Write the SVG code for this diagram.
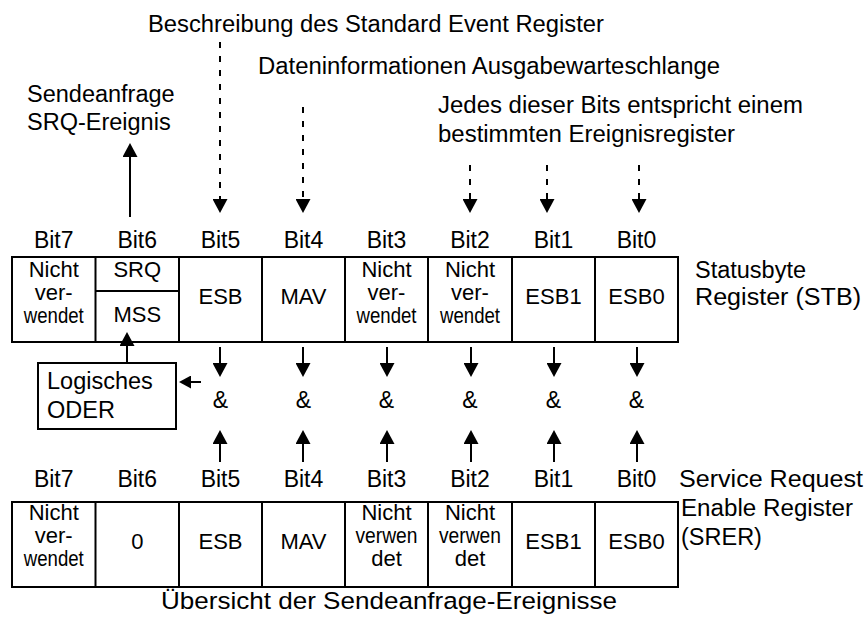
<svg xmlns="http://www.w3.org/2000/svg" width="867" height="621" viewBox="0 0 867 621">
<style>
text{font-family:"Liberation Sans",Arial,sans-serif;fill:#000}
.t{font-size:23.5px}
.c{font-size:22px;text-anchor:middle}
.b{font-size:23px;text-anchor:middle}
.box{fill:none;stroke:#000;stroke-width:2}
.ln{stroke:#000;stroke-width:2;fill:none}
.ds{stroke:#000;stroke-width:2;fill:none;stroke-dasharray:6 8}
</style>
<defs>
<marker id="ah" viewBox="0 0 14 15" refX="0" refY="7.5" markerWidth="14" markerHeight="15" orient="auto" markerUnits="userSpaceOnUse"><path d="M0,0 L14,7.5 L0,15 z" fill="#000"/></marker>
<marker id="ahs" viewBox="0 0 12 13" refX="0" refY="6.5" markerWidth="12" markerHeight="13" orient="auto" markerUnits="userSpaceOnUse"><path d="M0,0 L12,6.5 L0,13 z" fill="#000"/></marker>
</defs>
<rect width="867" height="621" fill="#fff"/>

<g id="label-ser"><text class="t" x="148" y="32" textLength="456" lengthAdjust="spacingAndGlyphs">Beschreibung des Standard Event Register</text></g>
<g id="label-mav"><text class="t" x="258" y="74" textLength="462" lengthAdjust="spacingAndGlyphs">Dateninformationen Ausgabewarteschlange</text></g>
<g id="label-srq"><text class="t" x="27" y="102">Sendeanfrage</text><text class="t" x="27" y="130">SRQ-Ereignis</text></g>
<g id="label-esb"><text class="t" x="438" y="113" textLength="365" lengthAdjust="spacingAndGlyphs">Jedes dieser Bits entspricht einem</text><text class="t" x="438" y="142" textLength="297" lengthAdjust="spacingAndGlyphs">bestimmten Ereignisregister</text></g>

<g id="bits-stb">
<text class="b" x="53.75" y="248">Bit7</text><text class="b" x="137.25" y="248">Bit6</text><text class="b" x="220.5" y="248">Bit5</text><text class="b" x="303.5" y="248">Bit4</text><text class="b" x="386.5" y="248">Bit3</text><text class="b" x="470" y="248">Bit2</text><text class="b" x="553.5" y="248">Bit1</text><text class="b" x="636.5" y="248">Bit0</text>
</g>

<g id="stb">
<rect class="box" x="12" y="257" width="666" height="85"/>
<path class="ln" d="M95.5,257V342M179,257V342M262,257V342M345,257V342M428,257V342M512,257V342M595,257V342M95.5,291H179"/>
<text class="c" x="53.75" y="277">Nicht</text><text class="c" x="53.75" y="300">ver-</text><text class="c" x="53.75" y="323" textLength="60" lengthAdjust="spacingAndGlyphs">wendet</text>
<text class="c" x="137.25" y="277">SRQ</text><text class="c" x="137.25" y="322">MSS</text>
<text class="c" x="220.5" y="304">ESB</text>
<text class="c" x="303.5" y="304">MAV</text>
<text class="c" x="386.5" y="277">Nicht</text><text class="c" x="386.5" y="300">ver-</text><text class="c" x="386.5" y="323" textLength="60" lengthAdjust="spacingAndGlyphs">wendet</text>
<text class="c" x="470" y="277">Nicht</text><text class="c" x="470" y="300">ver-</text><text class="c" x="470" y="323" textLength="60" lengthAdjust="spacingAndGlyphs">wendet</text>
<text class="c" x="553.5" y="304">ESB1</text>
<text class="c" x="636.5" y="304">ESB0</text>
</g>
<g id="stb-name"><text class="t" x="695" y="278">Statusbyte</text><text class="t" x="695" y="305" textLength="166" lengthAdjust="spacingAndGlyphs">Register (STB)</text></g>

<g id="or-box">
<rect class="box" x="38" y="363" width="138" height="66"/>
<text class="t" x="47" y="389">Logisches</text><text class="t" x="47" y="418">ODER</text>
</g>

<g id="and-gates">
<text class="b" x="220.5" y="408">&amp;</text><text class="b" x="303.5" y="408">&amp;</text><text class="b" x="386.5" y="408">&amp;</text><text class="b" x="470" y="408">&amp;</text><text class="b" x="553.5" y="408">&amp;</text><text class="b" x="636.5" y="408">&amp;</text>
</g>

<g id="bits-srer">
<text class="b" x="53.75" y="487">Bit7</text><text class="b" x="137.25" y="487">Bit6</text><text class="b" x="220.5" y="487">Bit5</text><text class="b" x="303.5" y="487">Bit4</text><text class="b" x="386.5" y="487">Bit3</text><text class="b" x="470" y="487">Bit2</text><text class="b" x="553.5" y="487">Bit1</text><text class="b" x="636.5" y="487">Bit0</text>
</g>

<g id="srer">
<rect class="box" x="12" y="502" width="666" height="85"/>
<path class="ln" d="M95.5,502V587M179,502V587M262,502V587M345,502V587M428,502V587M512,502V587M595,502V587"/>
<text class="c" x="53.75" y="520">Nicht</text><text class="c" x="53.75" y="543">ver-</text><text class="c" x="53.75" y="566" textLength="60" lengthAdjust="spacingAndGlyphs">wendet</text>
<text class="c" x="137.25" y="549">0</text>
<text class="c" x="220.5" y="549">ESB</text>
<text class="c" x="303.5" y="549">MAV</text>
<text class="c" x="386.5" y="520">Nicht</text><text class="c" x="386.5" y="543" textLength="62" lengthAdjust="spacingAndGlyphs">verwen</text><text class="c" x="386.5" y="566">det</text>
<text class="c" x="470" y="520">Nicht</text><text class="c" x="470" y="543" textLength="62" lengthAdjust="spacingAndGlyphs">verwen</text><text class="c" x="470" y="566">det</text>
<text class="c" x="553.5" y="549">ESB1</text>
<text class="c" x="636.5" y="549">ESB0</text>
</g>
<g id="srer-name"><text class="t" x="679" y="487" textLength="184" lengthAdjust="spacingAndGlyphs">Service Request</text><text class="t" x="681" y="516" textLength="172" lengthAdjust="spacingAndGlyphs">Enable Register</text><text class="t" x="681" y="545">(SRER)</text></g>

<g id="caption"><text class="t" x="161" y="609" font-size="24.5" style="font-size:24.5px" textLength="456" lengthAdjust="spacingAndGlyphs">Übersicht der Sendeanfrage-Ereignisse</text></g>

<g id="connectors">
<path class="ds" d="M220,42V199" marker-end="url(#ah)"/>
<path class="ds" d="M303,107V199" marker-end="url(#ah)"/>
<path class="ds" d="M470,165V199" marker-end="url(#ah)"/>
<path class="ds" d="M547,165V199" marker-end="url(#ah)"/>
<path class="ds" d="M639,165V199" marker-end="url(#ah)"/>
<path class="ln" d="M130,217V157" marker-end="url(#ah)"/>
<path class="ln" d="M127,363V346" marker-end="url(#ah)"/>
<path class="ln" d="M201,382H191" marker-end="url(#ahs)"/>
<path class="ln" d="M220,347V363" marker-end="url(#ah)"/>
<path class="ln" d="M303,347V363" marker-end="url(#ah)"/>
<path class="ln" d="M387,347V363" marker-end="url(#ah)"/>
<path class="ln" d="M471,347V363" marker-end="url(#ah)"/>
<path class="ln" d="M554,347V363" marker-end="url(#ah)"/>
<path class="ln" d="M637,347V363" marker-end="url(#ah)"/>
<path class="ln" d="M220,462V444" marker-end="url(#ah)"/>
<path class="ln" d="M303,462V444" marker-end="url(#ah)"/>
<path class="ln" d="M387,462V444" marker-end="url(#ah)"/>
<path class="ln" d="M471,462V444" marker-end="url(#ah)"/>
<path class="ln" d="M554,462V444" marker-end="url(#ah)"/>
<path class="ln" d="M637,462V444" marker-end="url(#ah)"/>
</g>
</svg>
